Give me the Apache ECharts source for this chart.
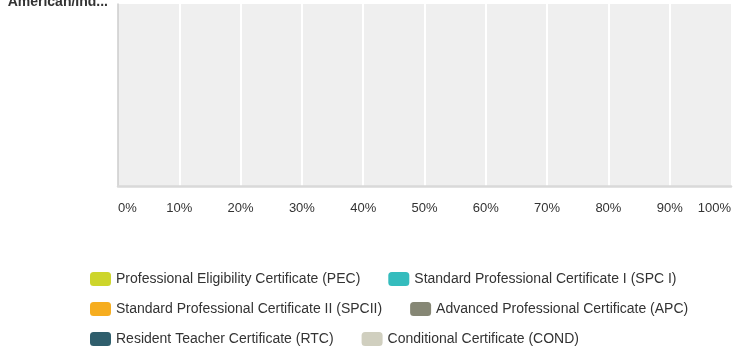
<!DOCTYPE html>
<html>
<head>
<meta charset="utf-8">
<style>
  html, body { margin: 0; padding: 0; background: #ffffff; }
  #chart { width: 733px; height: 353px; }
</style>
<script src="https://cdn.jsdelivr.net/npm/echarts@6/dist/echarts.min.js"></script>
</head>
<body>
<div id="chart"></div>
<script>
// Category rows (the trailing blank one closes the band at the bottom edge)
const categories = ['American/Ind...', ''];

// Certificate types, colours and their shares (%) for each row
const seriesNames = [
  'Professional Eligibility Certificate (PEC)',
  'Standard Professional Certificate I (SPC I)',
  'Standard Professional Certificate II (SPCII)',
  'Advanced Professional Certificate (APC)',
  'Resident Teacher Certificate (RTC)',
  'Conditional Certificate (COND)'
];
const seriesColors = ['#cdd52b', '#34bcbd', '#f6ad1f', '#868775', '#2f5e6c', '#d0cfbf'];
const pecValues  = [0, 0];
const spc1Values = [0, 0];
const spc2Values = [0, 0];
const apcValues  = [0, 0];
const rtcValues  = [0, 0];
const condValues = [0, 0];
const seriesValues = [pecValues, spc1Values, spc2Values, apcValues, rtcValues, condValues];

// Percent scale ticks
const tickMin = 0, tickMax = 100, tickStep = 10;

const font = 'Liberation Sans, Arial, Helvetica, sans-serif';
const chart = echarts.init(document.getElementById('chart'), null, { renderer: 'canvas' });

const legendRow = (names, top) => ({
  data: names,
  left: 90,
  top: top,
  orient: 'horizontal',
  padding: 0,
  itemWidth: 21,
  itemHeight: 14,
  itemGap: 28,
  icon: 'roundRect',
  selectedMode: false,
  textStyle: { fontFamily: font, fontSize: 14, color: '#333333' }
});

chart.setOption({
  animation: false,
  grid: {
    left: 118, right: 2, top: 4, bottom: 167,
    outerBoundsMode: 'none',
    containLabel: false,
    show: true, backgroundColor: '#efefef', borderWidth: 0
  },
  legend: [
    legendRow(seriesNames.slice(0, 2), 272),
    legendRow(seriesNames.slice(2, 4), 302),
    legendRow(seriesNames.slice(4, 6), 332)
  ],
  xAxis: {
    type: 'value',
    min: tickMin, max: tickMax, interval: tickStep,
    axisLine: { show: true, lineStyle: { color: '#d9d9d9', width: 2.5 } },
    axisTick: { show: false },
    splitLine: { show: true, showMinLine: false, showMaxLine: false, lineStyle: { color: '#ffffff', width: 2 } },
    axisLabel: {
      formatter: '{value}%',
      fontFamily: font, fontSize: 13, color: '#333333',
      margin: 16,
      alignMinLabel: 'left',
      alignMaxLabel: 'right'
    }
  },
  yAxis: {
    type: 'category',
    data: categories,
    inverse: true,
    boundaryGap: false,
    axisLine: { show: true, lineStyle: { color: '#cccccc', width: 1.5 } },
    axisTick: { show: false },
    splitLine: { show: false },
    axisLabel: {
      margin: 10,
      verticalAlign: 'middle',
      formatter: (v) => v ? '{cat|' + v + '}' : '',
      rich: {
        cat: {
          fontFamily: font, fontSize: 14, fontWeight: 'bold', color: '#333333',
          lineHeight: 14,
          padding: [0, 0, 4, 0]
        }
      }
    }
  },
  series: seriesNames.map((name, i) => ({
    name: name,
    type: 'bar',
    stack: 'share',
    barWidth: 30,
    itemStyle: { color: seriesColors[i] },
    data: seriesValues[i]
  }))
});
</script>
</body>
</html>
